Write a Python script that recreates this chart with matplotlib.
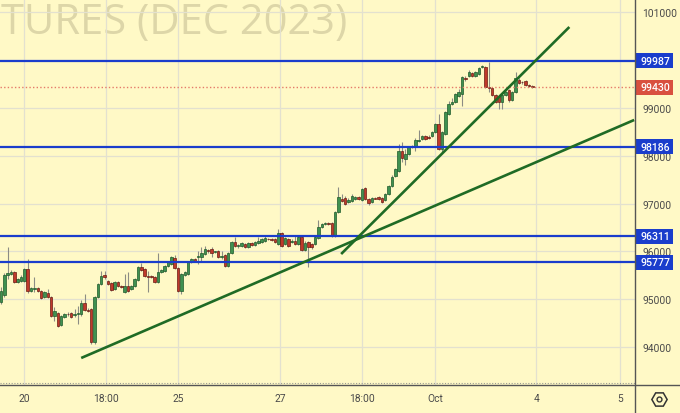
import matplotlib
matplotlib.use('Agg')
import matplotlib.pyplot as plt
import matplotlib.transforms as mtrans
from matplotlib.lines import Line2D
from matplotlib.patches import Rectangle
import numpy as np

plt.rcParams['font.family'] = ['Roboto', 'DejaVu Sans']

# ---------------- data ----------------
opens = [94940,95087,95505,95526,95568,95359,95380,95380,95631,95170,
         95212,95233,95170,95045,95129,95045,94647,94710,94459,94626,
         94689,94710,94668,94689,94689,94919,94773,94794,94103,95045,
         95317,95505,95380,95338,95212,95359,95275,95149,95275,95212,
         95275,95400,95672,95631,95484,95484,95463,95359,95568,95589,
         95693,95735,95861,95652,95170,95505,95526,95777,95840,95882,
         95882,95944,96028,96049,95986,
         96007,95882,95923,95693,95965,96195,96112,96112,96154,96091,
         96174,96133,96174,96195,96216,96258,96258,
         96258,96154,96384,96154,96258,96195,96216,96154,96300,96028,
         96195,96154,96154,96279,96509,96572,
         96593,96593,96321,96823,
         97095,97116,97032,97053,97095,97137,97074,97325,97095,97032,
         97116,97137,97116,97074,97200,97367,97576,97681,98099,97932,
         98036,98183,98183,98308,98350,98413,98402,98413,98497,98664,
         98141,98455,98873,99082,99124,99250,99292,99626,99668,99731,
         99668,99710,99856,99856,99438,99417,99271,99250,99124,99271,
         99375,99166,99333,99584,99543,99564,99480,99459]
highs = [95254,95547,96091,95610,95589,95442,95505,95652,95840,95254,
         95463,95254,95191,95170,95212,95066,94836,94731,94668,94710,
         94731,94731,94794,94857,94982,95108,94815,94815,95066,95338,
         95589,95589,95400,95359,95380,95380,95296,95526,95568,95296,
         95442,95693,95756,95652,95589,95505,95484,95965,95631,95714,
         95798,95903,95923,95672,95547,95589,95798,95861,95861,96007,
         96091,96112,96049,96091,96007,
         96028,96007,95944,95986,96216,96300,96154,96195,96174,96195,
         96195,96216,96300,96279,96321,96279,96279,
         96279,96467,96405,96300,96279,96258,96321,96321,96321,96216,
         96216,96174,96321,96656,96593,96614,
         96614,96614,96844,97346,
         97200,97158,97116,97200,97158,97158,97325,97346,97116,97137,
         97137,97158,97137,97221,97388,97597,97744,98246,98287,98141,
         98204,98225,98371,98538,98434,98434,98434,98518,98685,98873,
         98518,98936,99145,99208,99313,99396,99668,99668,99794,99752,
         99773,99856,99898,99877,99961,99438,99292,99271,99292,99354,
         99396,99354,99752,99626,99564,99584,99501,99480]
lows = [94898,95045,95421,95505,95338,95338,95359,95359,95129,95149,
        95149,95149,95003,95024,95024,94626,94543,94417,94438,94606,
        94647,94606,94626,94480,94647,94752,94731,94062,94062,95024,
        95296,95421,95296,95170,95191,95254,95233,95129,95149,95191,
        95254,95380,95589,95463,95149,95442,95338,95338,95547,95568,
        95672,95714,95631,95149,95108,95484,95505,95756,95777,95735,
        95798,95923,95965,95882,95965,
        95861,95840,95672,95672,95944,96091,96070,96091,96070,96070,
        96112,96112,96154,96174,96195,96237,96216,
        96174,96133,96091,96133,96091,96174,96133,96133,96007,96007,
        95672,96049,96133,96258,96488,96551,
        96551,96300,96300,96802,
        97032,96969,97011,97032,97074,97074,97053,97074,96969,97011,
        97095,97074,97011,97053,97179,97346,97555,97660,97869,97806,
        98015,98162,98099,98287,98329,98329,98350,98392,98476,98120,
        98078,98434,98852,99061,99103,99229,99041,99564,99647,99647,
        99647,99689,99836,99417,99333,99250,99103,98978,98978,99250,
        99124,99145,99313,99501,99501,99459,99438,99417]
closes = [95170,95505,95547,95568,95359,95421,95463,95631,95170,95233,
          95233,95170,95024,95149,95045,94647,94752,94438,94647,94689,
          94679,94626,94689,94710,94919,94773,94752,94103,95045,95317,
          95484,95463,95317,95191,95359,95275,95254,95275,95170,95275,
          95421,95672,95610,95484,95463,95453,95359,95568,95610,95693,
          95777,95882,95652,95170,95526,95568,95777,95840,95798,95903,
          95965,96049,96007,95965,95997,
          95882,95903,95693,95965,96195,96112,96122,96174,96091,96174,
          96133,96195,96216,96258,96279,96248,96237,
          96195,96384,96112,96279,96112,96216,96154,96300,96028,96174,
          96091,96091,96300,96509,96572,96582,
          96582,96321,96823,97137,
          97053,96990,97074,97158,97137,97095,97304,97095,97011,97116,
          97105,97095,97032,97200,97367,97555,97723,98099,97953,98036,
          98183,98204,98329,98329,98413,98350,98371,98497,98664,98141,
          98497,98915,99082,99124,99292,99333,99647,99605,99752,99668,
          99752,99836,99877,99438,99417,99271,99124,99124,99271,99333,
          99166,99333,99626,99522,99533,99480,99450,99430]

level_prices = [99987, 98186, 96311, 95777]
last_price = 99430
price_ticks = [94000, 95000, 96000, 97000, 98000, 99000, 100000, 101000]
price_tick_labels = ['94000', '95000', '96000', '97000', '98000', '99000', '', '101000']
time_tick_pos = [6.9, 31.4, 53.0, 83.5, 108.1, 129.9, 160.2, 185.3]
time_tick_labels = ['20', '18:00', '25', '27', '18:00', 'Oct', '4', '5']
trend_a_x = [24.0, 189.5]
trend_a_p = [93769, 98748]
trend_b_x = [101.8, 170.1]
trend_b_p = [95944, 100693]
watermark = 'TURES (DEC 2023)'

# ---------------- style ----------------
BG = '#fff9c6'
GRID = '#e3e1cf'
BLUE = '#1a3dcc'
RED_LBL = '#d9503f'
GREEN_TREND = '#1f6b25'
TXT = '#4a4a4a'

W, H = 680, 414
fig = plt.figure(figsize=(W / 100, H / 100), dpi=100)
fig.patch.set_facecolor(BG)

ax_bottom_px = 386
right_px = 634.5
ax = fig.add_axes([0, (H - ax_bottom_px) / H, right_px / W, ax_bottom_px / H])
ax.set_facecolor(BG)
ax.set_xlim(-0.3, 189.6)
ax.set_ylim(93204, 101279)
for s in ax.spines.values():
    s.set_visible(False)

ax.set_axisbelow(True)
ax.set_xticks(time_tick_pos)
ax.set_xticklabels(time_tick_labels)
ax.set_yticks(price_ticks)
ax.set_yticklabels(price_tick_labels)
ax.yaxis.tick_right()
ax.grid(True, color=GRID, lw=0.9)
ax.tick_params(axis='y', length=0, pad=5.5, labelsize=7.4, labelcolor=TXT)
ax.tick_params(axis='x', length=0, pad=5.5, labelsize=7.4, labelcolor=TXT)

# watermark
ax.text(1 / right_px, 1 - 34 / ax_bottom_px, watermark, transform=ax.transAxes,
        ha='left', va='baseline', fontsize=30, color='#ddd6a8',
        family=['Open Sans', 'DejaVu Sans'], zorder=0.1)

# candles
x = np.arange(len(opens))
o = np.array(opens, float)
h = np.array(highs, float)
l = np.array(lows, float)
c = np.array(closes, float)
up = c >= o
ax.vlines(x, l, h, color='#8c8c84', lw=0.8, zorder=2)
body = np.maximum(np.abs(c - o), 14)
bot = np.minimum(o, c)
ax.bar(x[up], body[up], bottom=bot[up], width=0.75, color='#3f9150',
       edgecolor='#1f5a2a', lw=0.5, zorder=3)
ax.bar(x[~up], body[~up], bottom=bot[~up], width=0.75, color='#c0392b',
       edgecolor='#6b1b12', lw=0.5, zorder=3)

# horizontal levels
for p in level_prices:
    ax.axhline(p, color=BLUE, lw=1.6, zorder=4)
ax.axhline(last_price, color='#e57a6a', lw=1.0, ls=(0, (1, 1.6)), zorder=4)
ax.axhline(93246, color='#9a9a90', lw=0.8, ls=(0, (1, 1.5)), zorder=4)

# trend lines
ax.plot(trend_a_x, trend_a_p, color=GREEN_TREND, lw=1.9, zorder=5, solid_capstyle='butt')
ax.plot(trend_b_x, trend_b_p, color=GREEN_TREND, lw=1.9, zorder=5, solid_capstyle='butt')

# price labels on right axis
blend = mtrans.blended_transform_factory(fig.transFigure, ax.transData)
ppx = (101279 - 93204) / ax_bottom_px  # price per pixel
for p, col in [(v, BLUE) for v in level_prices] + [(last_price, RED_LBL)]:
    rect = Rectangle((635 / W, p - 7.5 * ppx), 38 / W, 15 * ppx, transform=blend,
                     facecolor=col, edgecolor='none', clip_on=False, zorder=10)
    ax.add_patch(rect)
    ax.text(655.5 / W, p, str(p), transform=blend, ha='center', va='center',
            color='white', fontsize=7.6, fontweight='medium', zorder=11, clip_on=False)

# frame lines
fig.add_artist(Line2D([0, 1], [(H - ax_bottom_px) / H] * 2, transform=fig.transFigure,
                      color='#555555', lw=1.0))
fig.add_artist(Line2D([right_px / W] * 2, [0, 1], transform=fig.transFigure,
                      color='#555555', lw=1.0))

# settings icon
fig.add_artist(Line2D([659 / W], [(H - 400) / H], transform=fig.transFigure, marker='H',
                      ms=11, mfc='none', mec='#333333', mew=1.1, ls='none'))
fig.add_artist(Line2D([659 / W], [(H - 400) / H], transform=fig.transFigure, marker='o',
                      ms=3.5, mfc='none', mec='#333333', mew=1.0, ls='none'))

fig.savefig('out.png', dpi=100, facecolor=BG)
